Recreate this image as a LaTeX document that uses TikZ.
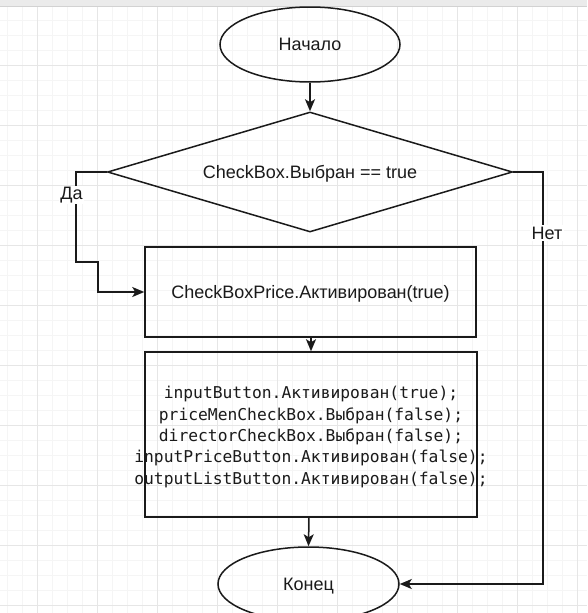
\documentclass[tikz,border=0pt]{standalone}
\usepackage{fontspec}
\setmainfont{Liberation Sans}
\newfontfamily\codefont{DejaVu Sans Mono}
\usetikzlibrary{arrows.meta,shapes.geometric}
\definecolor{gridminor}{HTML}{F5F5F5}
\definecolor{gridmajor}{HTML}{E6E6E6}
\definecolor{bandfill}{HTML}{EBEBEB}
\definecolor{bandline}{HTML}{D2D2D2}
\definecolor{ink}{HTML}{1A1A1A}
\begin{document}
\begin{tikzpicture}[x=1pt,y=-1pt,
  line width=1.5pt,
  every node/.style={text=ink, font=\fontsize{18}{21}\selectfont},
  term/.style={draw=ink, ellipse, minimum width=180pt, minimum height=75pt, inner sep=0pt, text depth=0pt},
  decide/.style={draw=ink, diamond, shape aspect=3.375, minimum width=405pt, minimum height=120pt, inner sep=0pt, text depth=0pt},
  proc/.style={draw=ink, rectangle, inner sep=0pt, text depth=0pt},
  conn/.style={draw=ink, -{Stealth[length=12pt,width=10pt,inset=3pt]}},
  lbl/.style={fill=white, inner sep=1.5pt},
  code/.style={align=center, inner sep=0pt, font=\codefont\fontsize{16.3}{21.3}\selectfont}
]
\useasboundingbox (0,0) rectangle (587,613);
\fill[white] (0,0) rectangle (587,613);
\begin{scope}[line width=0.9pt]
  \clip (0,6) rectangle (587,613);
  \foreach \x in {7,22,...,587} \draw[gridminor] (\x,0) -- (\x,613);
  \foreach \y in {5,20,...,613} \draw[gridminor] (0,\y) -- (587,\y);
  \foreach \x in {37,97,...,587} \draw[gridmajor] (\x,0) -- (\x,613);
  \foreach \y in {65,125,...,613} \draw[gridmajor] (0,\y) -- (587,\y);
\end{scope}
\fill[bandfill] (0,0) rectangle (587,6);
\draw[bandline, line width=1pt] (0,6) -- (587,6);

\node[term] (start) at (310,44.5) {Начало};
\node[decide] (dec) at (310,172) {CheckBox.Выбран == true};
\node[proc, minimum width=331pt, minimum height=90pt] (p1) at (310.5,292) {CheckBoxPrice.Активирован(true)};
\node[proc, minimum width=332pt, minimum height=165pt] (p2) at (311,434.5) {};
\node[code, yshift=-2.5pt] (p2text) at (p2.center)
  {inputButton.Активирован(true);\\priceMenCheckBox.Выбран(false);\\directorCheckBox.Выбран(false);\\inputPriceButton.Активирован(false);\\outputListButton.Активирован(false);};
\node[term, minimum width=181pt, minimum height=74pt] (end) at (308.5,584) {Конец};

\coordinate (y1) at (76,172);
\coordinate (y2) at (76,262);
\coordinate (y3) at (98,262);
\coordinate (y4) at (98,292);
\coordinate (n1) at (543,172);
\coordinate (n2) at (543,584);

\draw[conn] (start.south) -- (dec.north);
\draw[conn] (dec.west) -- (y1) -- (y2) -- (y3) -- (y4) -- (p1.west);
\draw[conn] (dec.east) -- (n1) -- (n2) -- (end.east);
\draw[conn] (p1.south -| 311,0) -- (p2.north -| 311,0);
\draw[conn] (p2.south -| 309,0) -- (end.north);

\node[lbl] (da) at (71.5,195) {Да};
\node[lbl] (net) at (547,233) {Нет};
\end{tikzpicture}
\end{document}
